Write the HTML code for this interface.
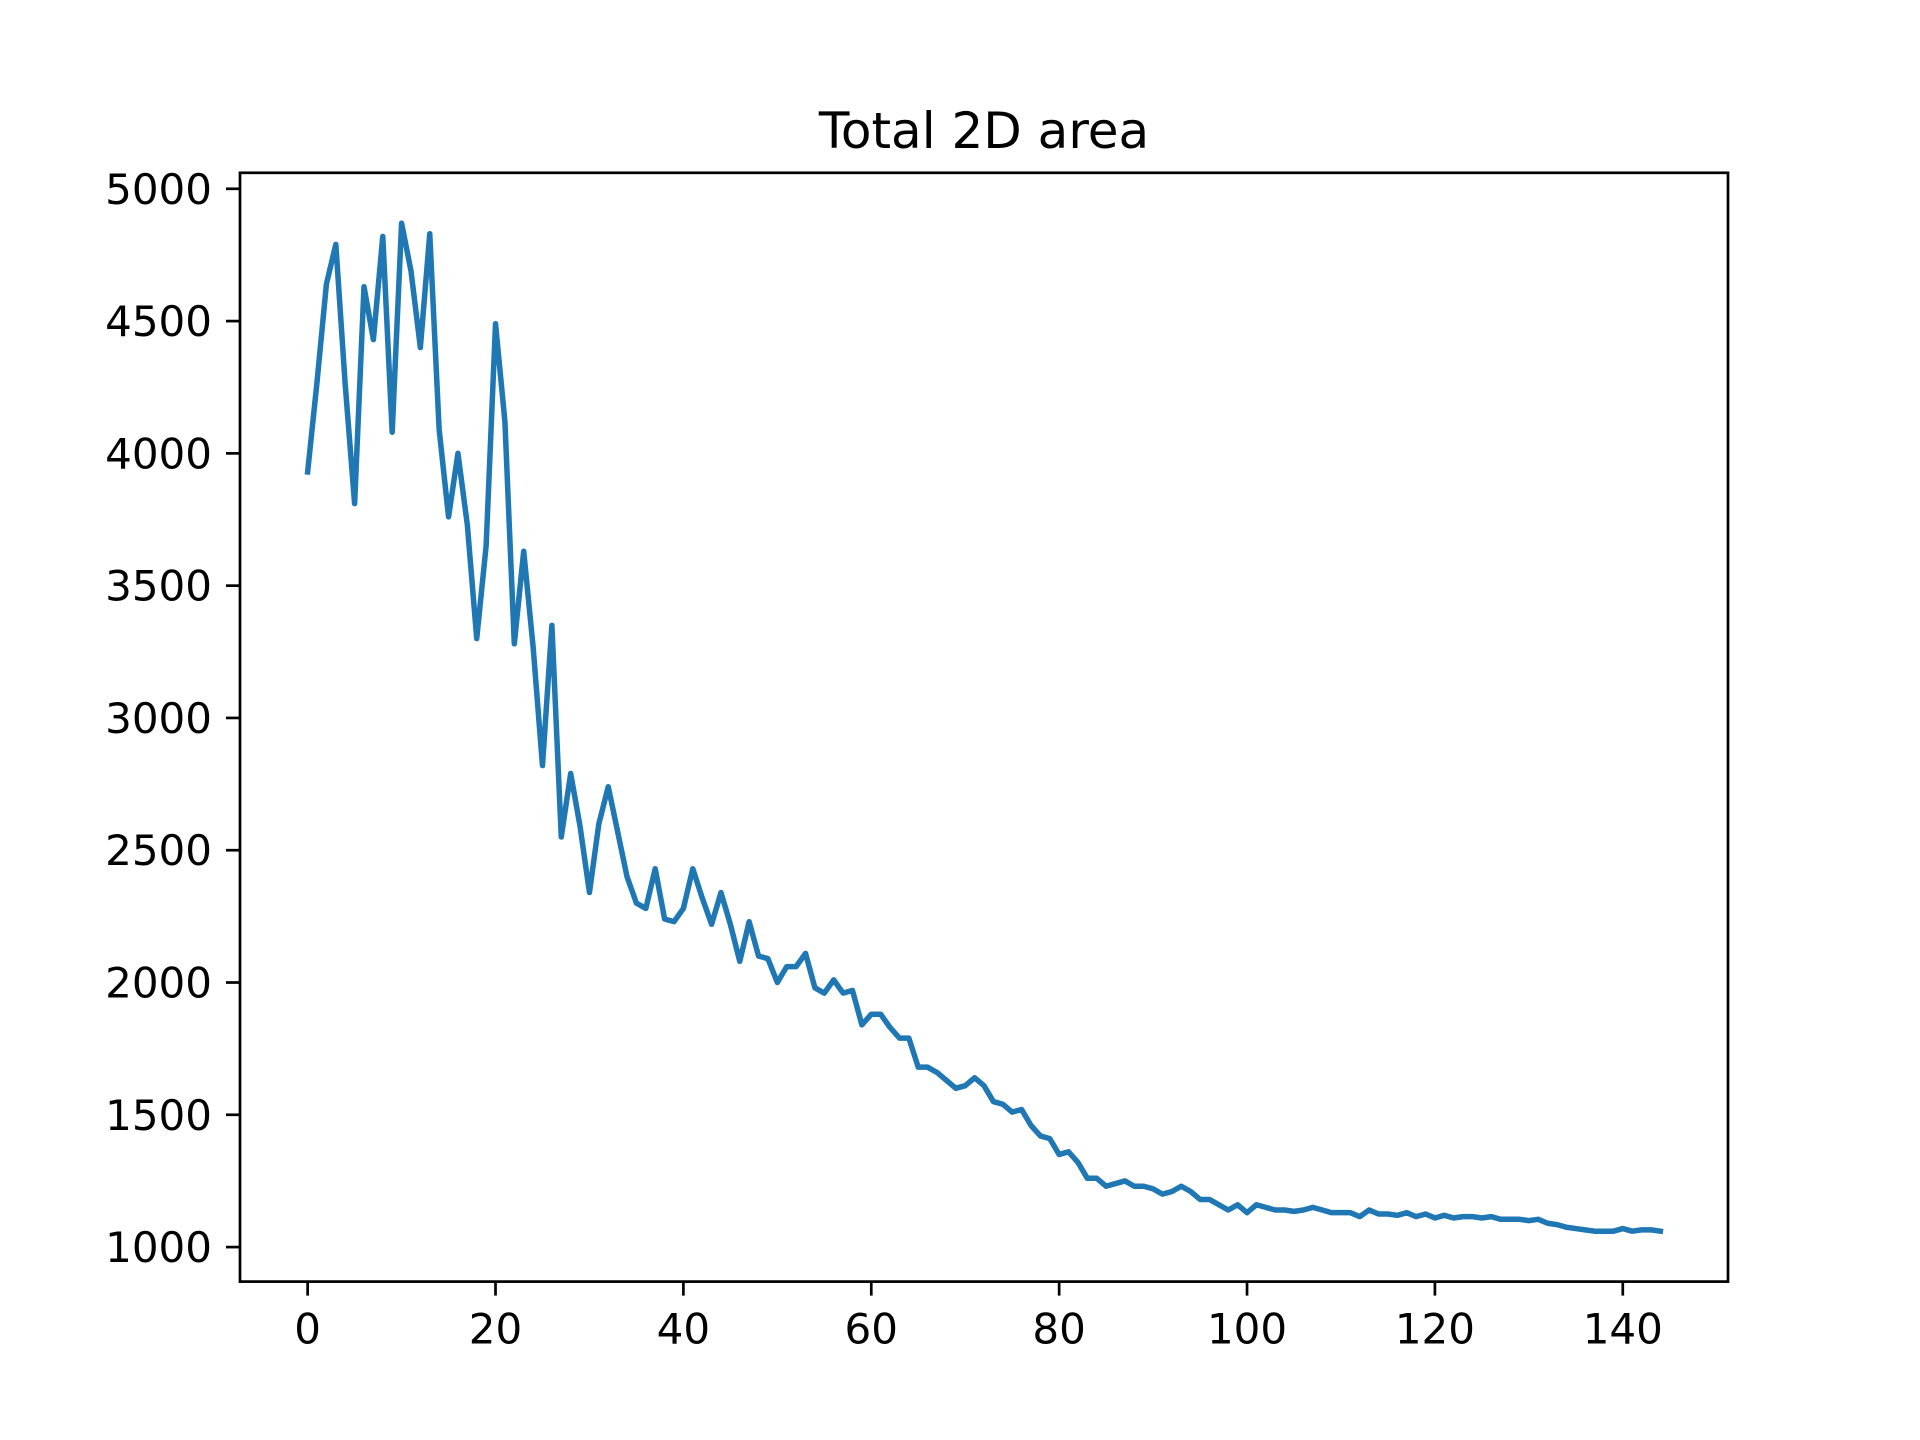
<!DOCTYPE html>
<html><head><meta charset="utf-8"><style>
html,body{margin:0;padding:0;background:#fff;}
svg{display:block;font-family:"DejaVu Sans","Liberation Sans",sans-serif;}
</style></head><body>
<svg id="chart" width="1920" height="1440" viewBox="0 0 1920 1440" xmlns="http://www.w3.org/2000/svg">
<rect width="1920" height="1440" fill="#fff"/>
<text x="984" y="148" font-size="50" text-anchor="middle">Total 2D area</text>
<g id="plot"></g>
</svg>
<script>
const areaValues = [3930,4270,4640,4790,4260,3810,4630,4430,4820,4080,4870,4690,4400,4830,4090,3760,4000,3730,3300,3650,4490,4120,3280,3630,3270,2820,3350,2550,2790,2590,2340,2600,2740,2570,2400,2300,2280,2430,2240,2230,2280,2430,2320,2220,2340,2220,2080,2230,2100,2090,2000,2060,2060,2110,1980,1960,2010,1960,1970,1840,1880,1880,1830,1790,1790,1680,1680,1660,1630,1600,1610,1640,1610,1550,1540,1510,1520,1460,1420,1410,1350,1360,1320,1260,1260,1230,1240,1250,1230,1230,1220,1200,1210,1230,1210,1180,1180,1160,1140,1160,1130,1160,1150,1140,1140,1135,1140,1150,1140,1130,1130,1130,1115,1140,1125,1125,1120,1130,1115,1125,1110,1120,1110,1115,1115,1110,1115,1105,1105,1105,1100,1105,1090,1085,1075,1070,1065,1060,1060,1060,1070,1060,1065,1065,1060];
const xTickValues = [0,20,40,60,80,100,120,140];
const yTickValues = [1000,1500,2000,2500,3000,3500,4000,4500,5000];

const NS = "http://www.w3.org/2000/svg";
const L = 240, R = 1728, T = 172.8, B = 1281.6;
const n = areaValues.length;
const xmin0 = 0, xmax0 = n - 1, xr = xmax0 - xmin0;
const xlo = xmin0 - 0.05 * xr, xhi = xmax0 + 0.05 * xr;
const ymin0 = Math.min(...areaValues), ymax0 = Math.max(...areaValues), yr = ymax0 - ymin0;
const ylo = ymin0 - 0.05 * yr, yhi = ymax0 + 0.05 * yr;
function xs(v){ return L + (v - xlo) / (xhi - xlo) * (R - L); }
function ys(v){ return B - (v - ylo) / (yhi - ylo) * (B - T); }
const g = document.getElementById('plot');
function mk(tag, attrs){ const e = document.createElementNS(NS, tag); for (const k in attrs) e.setAttribute(k, attrs[k]); g.appendChild(e); return e; }

let d = areaValues.map((v,i)=>(i?'L':'M')+xs(i).toFixed(2)+','+ys(v).toFixed(2)).join(' ');
const line = mk('path', {d:d, fill:'none', stroke:'#1f77b4', 'stroke-width':5.5, 'stroke-linejoin':'round', 'stroke-linecap':'square'});



const frame = mk('rect', {x:L, y:T, width:R-L, height:B-T, fill:'none', stroke:'#000', 'stroke-width':2.7});



xTickValues.forEach(v=>{
  const x = xs(v);
  const t = mk('line', {x1:x, x2:x, y1:B, y2:B+14, stroke:'#000', 'stroke-width':2.7});
  
  
  const lb = mk('text', {x:x, y:B+62, 'font-size':42, 'text-anchor':'middle'});
  lb.textContent = v;
  
  
});
yTickValues.forEach(v=>{
  const y = ys(v);
  const t = mk('line', {x1:L-14, x2:L, y1:y, y2:y, stroke:'#000', 'stroke-width':2.7});
  
  
  const lb = mk('text', {x:L-28, y:y+15, 'font-size':42, 'text-anchor':'end'});
  lb.textContent = v;
  
  
});
</script>
</body></html>
